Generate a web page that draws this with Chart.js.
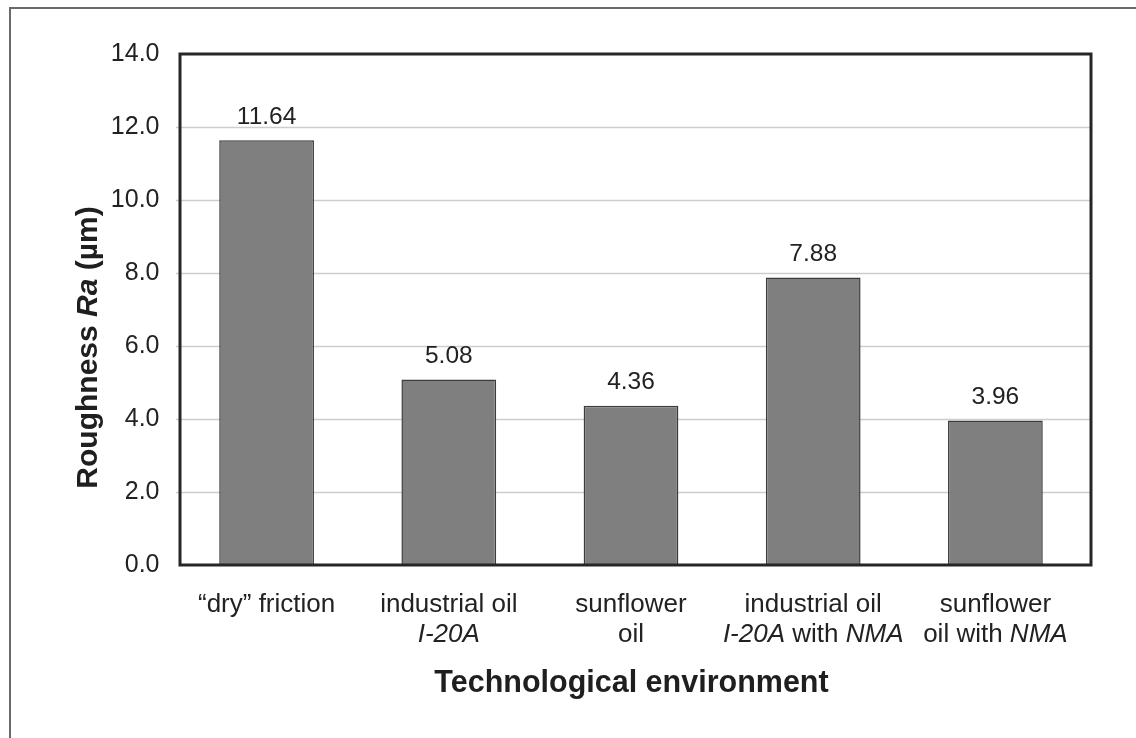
<!DOCTYPE html>
<html>
<head>
<meta charset="utf-8">
<title>Roughness Ra by technological environment</title>
<script src="https://cdn.jsdelivr.net/npm/chart.js@4.4.1/dist/chart.umd.min.js"></script>
<style>
  html, body { margin: 0; padding: 0; background: #ffffff; }
  canvas { display: block; }
</style>
</head>
<body>
<canvas id="chart" width="1136" height="738"></canvas>
<script>
// Category labels: one entry per line, text between *asterisks* is set in italic
const categories = [
  ["\u201Cdry\u201D friction"],
  ["industrial oil", "*I-20A*"],
  ["sunflower", "oil"],
  ["industrial oil", "*I-20A* with *NMA*"],
  ["sunflower", "oil with *NMA*"]
];
// Surface roughness Ra, µm
const roughness = [11.64, 5.08, 4.36, 7.88, 3.96];
const yMin = 0;
const yMax = 14;
const yStep = 2;
const yTitle = "Roughness *Ra* (\u00B5m)";
const xTitle = "Technological environment";

const FONT = "'Liberation Sans', Arial, Helvetica, sans-serif";

// Draw a line of text where *...* segments are italic, centred on cx
function drawRich(ctx, text, cx, y, size, weight) {
  const parts = text.split('*');
  const fonts = parts.map((p, i) => `${i % 2 ? 'italic ' : ''}${weight} ${size}px ${FONT}`);
  let total = 0;
  const widths = parts.map((p, i) => { ctx.font = fonts[i]; const w = ctx.measureText(p).width; total += w; return w; });
  let x = cx - total / 2;
  ctx.textAlign = 'left';
  parts.forEach((p, i) => { ctx.font = fonts[i]; ctx.fillText(p, x, y); x += widths[i]; });
}

// The framed plot box sits a few pixels right of the category band
const FRAME_SHIFT = 4.5;

const decorations = {
  id: 'decorations',
  beforeDraw(chart) {
    const ctx = chart.ctx;
    ctx.save();
    ctx.fillStyle = '#ffffff';
    ctx.fillRect(0, 0, chart.width, chart.height);
    // outer figure rule, top and left
    ctx.strokeStyle = '#6a6a6a';
    ctx.lineWidth = 2;
    ctx.beginPath();
    ctx.moveTo(10, chart.height);
    ctx.lineTo(10, 8);
    ctx.lineTo(chart.width, 8);
    ctx.stroke();
    ctx.restore();
  },
  beforeDatasetsDraw(chart) {
    const ctx = chart.ctx, y = chart.scales.y, a = chart.chartArea;
    ctx.save();
    ctx.strokeStyle = '#cdcdcd';
    ctx.lineWidth = 1.5;
    for (let v = yMin + yStep; v < yMax; v += yStep) {
      const py = Math.round(y.getPixelForValue(v)) + 0.5;
      ctx.beginPath();
      ctx.moveTo(a.left + FRAME_SHIFT - 4, py);
      ctx.lineTo(a.right + FRAME_SHIFT, py);
      ctx.stroke();
    }
    ctx.restore();
  },
  afterDatasetsDraw(chart) {
    const ctx = chart.ctx, x = chart.scales.x, y = chart.scales.y, a = chart.chartArea;
    ctx.save();
    // plot frame
    const top = y.getPixelForValue(yMax), bottom = y.getPixelForValue(yMin);
    ctx.strokeStyle = '#262626';
    ctx.lineWidth = 3;
    ctx.strokeRect(a.left + FRAME_SHIFT, top, a.right - a.left, bottom - top);

    // value labels above bars
    ctx.fillStyle = '#222222';
    ctx.textBaseline = 'alphabetic';
    const meta = chart.getDatasetMeta(0);
    meta.data.forEach((bar, i) => {
      ctx.font = `24.5px ${FONT}`;
      ctx.textAlign = 'center';
      ctx.fillText(roughness[i].toFixed(2), bar.x, bar.y - 16.5);
    });

    // category labels
    ctx.fillStyle = '#222222';
    categories.forEach((lines, i) => {
      const cx = x.getPixelForValue(i);
      lines.forEach((line, j) => {
        drawRich(ctx, line, cx, bottom + 47 + j * 30, 26, 'normal');
      });
    });

    // axis titles
    ctx.fillStyle = '#1f1f1f';
    drawRich(ctx, xTitle, (a.left + a.right) / 2 + FRAME_SHIFT - 4, bottom + 127, 30.5, 'bold');
    ctx.translate(97, (top + bottom) / 2 + 38);
    ctx.rotate(-Math.PI / 2);
    drawRich(ctx, yTitle, 0, 0, 30, 'bold');
    ctx.restore();
  }
};

new Chart(document.getElementById('chart'), {
  type: 'bar',
  data: {
    labels: categories.map(l => l.join(' ').replace(/\*/g, '')),
    datasets: [{
      data: roughness,
      backgroundColor: '#7f7f7f',
      borderColor: '#3c3c3c',
      borderWidth: 1.5,
      categoryPercentage: 1.0,
      barPercentage: 0.52
    }]
  },
  options: {
    responsive: false,
    animation: false,
    layout: { padding: { left: 0, top: 54, right: 49.5, bottom: 173 } },
    plugins: {
      legend: { display: false },
      tooltip: { enabled: false },
      title: { display: false }
    },
    scales: {
      x: { display: false },
      y: {
        min: yMin,
        max: yMax,
        grid: { display: false, drawTicks: false },
        border: { display: false },
        afterFit(scale) { scale.width = 175.5; },
        ticks: {
          stepSize: yStep,
          padding: 16,
          color: '#222222',
          font: { family: FONT, size: 25 },
          callback: v => Number(v).toFixed(1)
        }
      }
    }
  },
  plugins: [decorations]
});
</script>
</body>
</html>
